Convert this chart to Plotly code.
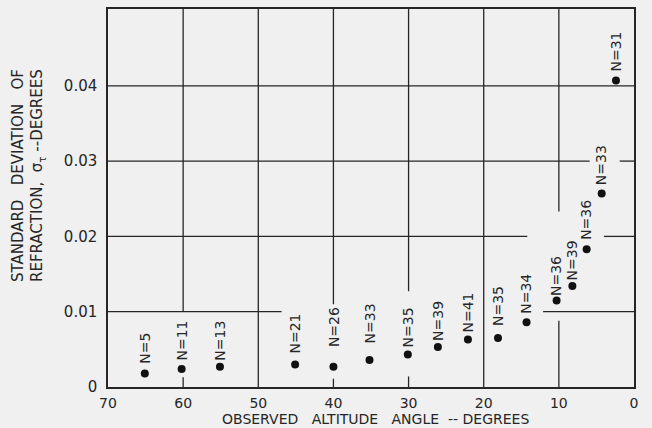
import plotly.graph_objects as go

# Observed altitude angle (degrees), standard deviation of refraction (degrees), sample size
altitude = [65.1, 60.2, 55.1, 45.1, 40.0, 35.2, 30.1, 26.1, 22.1, 18.1, 14.3, 10.3, 8.2, 6.3, 4.3, 2.4]
std_dev = [0.0018, 0.0024, 0.0027, 0.0030, 0.0027, 0.0036, 0.0043, 0.0053, 0.0063,
           0.0065, 0.0086, 0.0115, 0.0134, 0.0183, 0.0257, 0.0407]
sample_n = [5, 11, 13, 21, 26, 33, 35, 39, 41, 35, 34, 36, 39, 36, 33, 31]

x_ticks = [70, 60, 50, 40, 30, 20, 10, 0]
y_ticks = [0, 0.01, 0.02, 0.03, 0.04]
y_tick_text = ["0", "0.01", "0.02", "0.03", "0.04"]

# pixel gap between each dot and its rotated "N=" label
label_gap = [10, 8, 6, 11, 20, 16, 7, 6, 7, 12, 8, 4, 6, 9, 8, 9]

INK = "#262626"
PAPER = "#f0f0f0"
FONT = "DejaVu Sans"
SP = "\u00a0"

fig = go.Figure()
fig.add_trace(go.Scatter(
    x=altitude, y=std_dev, mode="markers",
    marker=dict(size=8, color="#111111"),
    hoverinfo="skip", showlegend=False,
))

# Grid drawn as broken segments so the lines stop short of the lettering
grid_h = [
    (0.04, [(70, 0)]),
    (0.03, [(70, 5.9), (1.9, 0)]),
    (0.02, [(70, 14.2), (4.0, 0)]),
    (0.01, [(70, 46.9), (12.1, 0)]),
]
grid_v = [
    (60, [(0.01, 0.0502), (0, 0.0013)]),
    (50, [(0, 0.0502)]),
    (40, [(0.0110, 0.0502), (0, 0.0011)]),
    (30, [(0.0127, 0.0502), (0, 0.0014)]),
    (20, [(0, 0.0502)]),
    (10, [(0.0233, 0.0502), (0, 0.0088)]),
]
shapes = []
for yv, segs in grid_h:
    for x0, x1 in segs:
        shapes.append(dict(type="line", xref="x", yref="y", x0=x0, x1=x1, y0=yv, y1=yv,
                           line=dict(color=INK, width=1.3), layer="below"))
for xv, segs in grid_v:
    for y0, y1 in segs:
        shapes.append(dict(type="line", xref="x", yref="y", x0=xv, x1=xv, y0=y0, y1=y1,
                           line=dict(color=INK, width=1.3), layer="below"))

annotations = []
for x, y, n, g in zip(altitude, std_dev, sample_n, label_gap):
    annotations.append(dict(
        x=x, y=y, xref="x", yref="y", text=f"N={n}", textangle=-90,
        showarrow=False, xanchor="center", yanchor="bottom", yshift=g - 2,
        font=dict(family=FONT, size=14, color=INK),
    ))

annotations.append(dict(
    x=0.509, y=-0.084, xref="paper", yref="paper", xanchor="center", yanchor="middle",
    text=f"OBSERVED{SP*3}ALTITUDE{SP*3}ANGLE{SP*2}--{SP}DEGREES", showarrow=False,
    font=dict(family=FONT, size=14, color=INK), borderpad=0,
))
annotations.append(dict(
    x=-0.152, y=0.558, xref="paper", yref="paper", xanchor="center", yanchor="middle",
    textangle=-90, showarrow=False,
    text=f"STANDARD{SP*3}DEVIATION{SP*3}OF<br>"
         f"REFRACTION,{SP*2}σ<sub>τ</sub>{SP}--DEGREES",
    font=dict(family=FONT, size=15, color=INK),
))

fig.update_layout(
    width=652, height=428,
    margin=dict(l=108, r=18, t=7, b=41),
    paper_bgcolor=PAPER, plot_bgcolor=PAPER,
    shapes=shapes, annotations=annotations,
    xaxis=dict(range=[70, 0], tickvals=x_ticks, ticktext=[str(v) for v in x_ticks],
               showgrid=False, zeroline=False, showline=True, mirror=True,
               linecolor=INK, linewidth=1.5, ticks="", ticklabelstandoff=2,
               tickfont=dict(family=FONT, size=14, color=INK)),
    yaxis=dict(range=[0, 0.0502], tickvals=y_ticks, ticktext=y_tick_text,
               showgrid=False, zeroline=False, showline=True, mirror=True,
               linecolor=INK, linewidth=1.5, ticks="", ticklabelstandoff=6,
               tickfont=dict(family=FONT, size=15, color=INK)),
)

fig.write_html("out.html", config={"displayModeBar": False})
